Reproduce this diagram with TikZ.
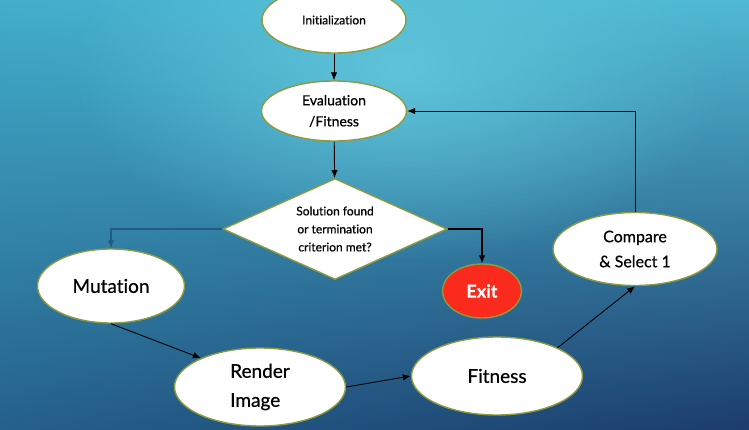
\documentclass[tikz,border=0pt]{standalone}
\usepackage{fontspec}
\setmainfont{Lato}[Ligatures=NoCommon,FakeBold=0.6]
\usetikzlibrary{arrows.meta,shapes.geometric,shadings,fadings}
\definecolor{bgUpperLeft}{RGB}{66,174,204}
\definecolor{bgUpperRight}{RGB}{80,186,211}
\definecolor{bgLowerLeft}{RGB}{36,96,138}
\definecolor{bgLowerRight}{RGB}{28,60,108}
\definecolor{bgGlow}{RGB}{100,202,222}
\definecolor{ovalEdge}{RGB}{140,155,62}
\definecolor{exitRed}{RGB}{250,42,28}
\definecolor{branchBlue}{RGB}{34,90,132}
\tikzfading[name=glowfade,inner color=transparent!0,outer color=transparent!100]

\begin{document}
\begin{tikzpicture}[
  x=1pt,y=-1pt,
  oval/.style={ellipse,draw=ovalEdge,line width=1.4pt,fill=white,inner sep=0pt,align=center,text=black},
  decision/.style={diamond,draw=ovalEdge,line width=1.4pt,fill=white,inner sep=0pt,aspect=2.2,align=center,text=black},
  arrow/.style={-{Latex[length=8pt,width=6.5pt]},line width=0.9pt,black}
]
% background
\useasboundingbox (0,0) rectangle (749,430);
\shade[shading=bilinear interpolation,upper left=bgUpperLeft,upper right=bgUpperRight,
  lower left=bgLowerLeft,lower right=bgLowerRight] (0,0) rectangle (749,430);
\fill[bgGlow,path fading=glowfade,fill opacity=0.85] (400,70) ellipse (330pt and 190pt);

% nodes
\node[oval,minimum width=144pt,minimum height=66pt,font=\fontsize{12}{14}\selectfont] (init) at (334,20) {Initialization};
\node[oval,minimum width=145pt,minimum height=60pt,font=\fontsize{14}{21}\selectfont] (eval) at (334,111) {Evaluation\\/Fitness};
\node[decision,minimum width=224pt,minimum height=101pt,font=\fontsize{12}{18}\selectfont] (check) at (335,229) {Solution found\\or termination\\criterion met?};
\node[oval,minimum width=147pt,minimum height=74pt,font=\fontsize{19}{23}\selectfont] (mutate) at (111,286) {Mutation};
\node[oval,fill=exitRed,text=white,minimum width=79pt,minimum height=54pt,font=\bfseries\fontsize{18}{22}\selectfont] (exit) at (482,291) {Exit};
\node[oval,minimum width=171pt,minimum height=78pt,align=left,font=\fontsize{19}{29}\selectfont] (render) at (260,387) {Render\\Image};
\node[oval,minimum width=171pt,minimum height=78pt,font=\fontsize{19}{23}\selectfont] (fitness) at (497,376) {Fitness};
\node[oval,minimum width=164pt,minimum height=73pt,font=\fontsize{16}{25}\selectfont] (select) at (635,249) {Compare\\\& Select 1};

% connectors
\draw[arrow] (init) -- (eval);
\draw[arrow] (eval) -- (check);
\draw[arrow,branchBlue,line width=1.2pt] (check.west) -| (mutate.north);
\draw[arrow,line width=1.1pt] (check.east) -| (exit.north);
\draw[arrow] (mutate.south) -- (render.154);
\draw[arrow] (render.east) -- (fitness.west);
\draw[arrow] (fitness.25) -- (select.south);
\draw[arrow] (select.north) |- (eval.east);
\end{tikzpicture}
\end{document}
